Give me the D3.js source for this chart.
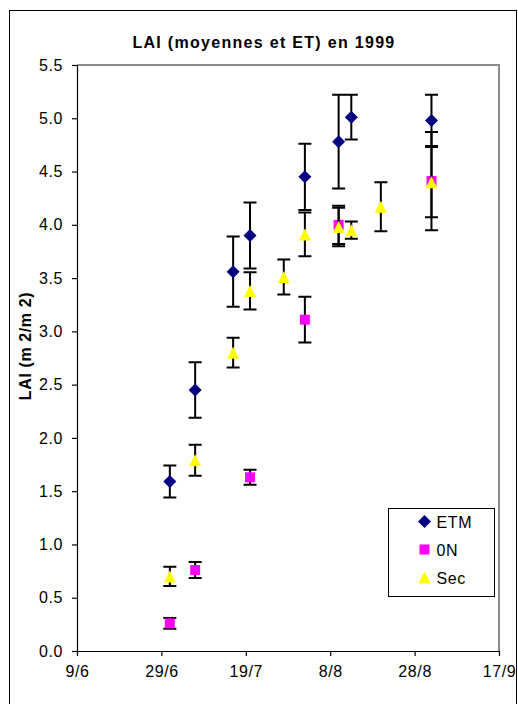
<!DOCTYPE html>
<html>
<head>
<meta charset="utf-8">
<script src="https://cdn.jsdelivr.net/npm/d3@7/dist/d3.min.js"></script>
<style>
  body { margin: 0; background: #fff; }
  svg { display: block; font-family: "Liberation Sans", Arial, sans-serif; }
  .axis text { font-size: 16px; letter-spacing: 0.6px; fill: #000; }
  .axis path, .axis line { stroke: #000; stroke-width: 1.2; }
</style>
</head>
<body>
<div id="chart"></div>
<script>
// LAI means and standard deviations (ET), 1999
const etmDates = ["1999-07-01", "1999-07-07", "1999-07-16", "1999-07-20", "1999-08-02", "1999-08-10", "1999-08-13", "1999-09-01"];
const etmMean = [1.59, 2.45, 3.56, 3.90, 4.45, 4.78, 5.01, 4.98];
const etmSd = [0.15, 0.26, 0.33, 0.31, 0.31, 0.44, 0.21, 0.24];

const onDates = ["1999-07-01", "1999-07-07", "1999-07-20", "1999-08-02", "1999-08-10", "1999-09-01"];
const onMean = [0.26, 0.76, 1.63, 3.11, 4.00, 4.41];
const onSd = [0.05, 0.075, 0.07, 0.215, 0.18, 0.46];

const secDates = ["1999-07-01", "1999-07-07", "1999-07-16", "1999-07-20", "1999-07-28", "1999-08-02", "1999-08-10", "1999-08-13", "1999-08-20", "1999-09-01"];
const secMean = [0.70, 1.79, 2.80, 3.38, 3.51, 3.91, 3.98, 3.95, 4.17, 4.40];
const secSd = [0.09, 0.145, 0.14, 0.175, 0.165, 0.205, 0.18, 0.08, 0.23, 0.33];

const xTicks = ["1999-06-09", "1999-06-29", "1999-07-19", "1999-08-08", "1999-08-28", "1999-09-17"];
const yTicks = [0, 0.5, 1, 1.5, 2, 2.5, 3, 3.5, 4, 4.5, 5, 5.5];

const parse = d3.timeParse("%Y-%m-%d");

const series = [
  { name: "ETM", color: "#000080", shape: "diamond", dates: etmDates, mean: etmMean, sd: etmSd },
  { name: "0N", color: "#ff00ff", shape: "square", dates: onDates, mean: onMean, sd: onSd },
  { name: "Sec", color: "#ffff00", shape: "triangle", dates: secDates, mean: secMean, sd: secSd }
];

const W = 518, H = 704;
const plot = { left: 77, right: 499, top: 65, bottom: 651 };

const x = d3.scaleTime()
  .domain([parse(xTicks[0]), parse(xTicks[xTicks.length - 1])])
  .range([plot.left, plot.right]);
const y = d3.scaleLinear().domain([0, 5.5]).range([plot.bottom, plot.top]);

const svg = d3.select("#chart").append("svg").attr("width", W).attr("height", H);

// chart frame
svg.append("rect")
  .attr("x", 9.5).attr("y", 10.5).attr("width", 507).attr("height", 700)
  .attr("fill", "#fff").attr("stroke", "#000").attr("stroke-width", 1);

// plot area border (grey top/right)
svg.append("path")
  .attr("d", `M${plot.left},${plot.top}H${plot.right}V${plot.bottom}`)
  .attr("fill", "none").attr("stroke", "#8c8c8c").attr("stroke-width", 2);

svg.append("text")
  .attr("x", 264).attr("y", 48)
  .attr("text-anchor", "middle")
  .attr("font-size", 16).attr("font-weight", "bold")
  .style("letter-spacing", "1.3px")
  .text("LAI (moyennes et ET) en 1999");

svg.append("text")
  .attr("transform", "translate(31,346) rotate(-90)")
  .attr("text-anchor", "middle")
  .attr("font-size", 16).attr("font-weight", "bold")
  .style("letter-spacing", "0.6px")
  .text("LAI (m 2/m 2)");

svg.append("g").attr("class", "axis")
  .attr("transform", `translate(${plot.left},0)`)
  .call(d3.axisLeft(y).tickValues(yTicks).tickFormat(d3.format(".1f")).tickSize(5).tickSizeOuter(0).tickPadding(9));

svg.append("g").attr("class", "axis")
  .attr("transform", `translate(0,${plot.bottom})`)
  .call(d3.axisBottom(x).tickValues(xTicks.map(parse)).tickFormat(d3.timeFormat("%-d/%-m")).tickSize(5).tickSizeOuter(0).tickPadding(10));

function markerPath(shape) {
  if (shape === "diamond") return "M0,-6.5L6.5,0L0,6.5L-6.5,0Z";
  if (shape === "square") return "M-5,-5H5V5H-5Z";
  return "M0,-6L6,6H-6Z";
}

const cap = 6.5;
series.forEach(s => {
  const pts = s.dates.map((d, i) => ({ date: parse(d), mean: s.mean[i], sd: s.sd[i] }));
  const g = svg.append("g");

  const eb = g.append("g").attr("stroke", "#000").attr("stroke-width", 2).attr("fill", "none")
    .selectAll("path").data(pts).join("path")
    .attr("d", d => {
      const cx = x(d.date), hi = y(d.mean + d.sd), lo = y(d.mean - d.sd);
      return `M${cx},${hi}V${lo}M${cx - cap},${hi}H${cx + cap}M${cx - cap},${lo}H${cx + cap}`;
    });

  g.append("g").selectAll("path").data(pts).join("path")
    .attr("transform", d => `translate(${x(d.date)},${y(d.mean)})`)
    .attr("d", markerPath(s.shape))
    .attr("fill", s.color);
});

// legend
const lg = svg.append("g").attr("transform", "translate(388.5,508.5)");
lg.append("rect").attr("width", 106).attr("height", 88)
  .attr("fill", "#fff").attr("stroke", "#000").attr("stroke-width", 1);
series.forEach((s, i) => {
  const row = lg.append("g").attr("transform", `translate(0,${13 + i * 28})`);
  row.append("path").attr("transform", "translate(36,0)").attr("d", markerPath(s.shape)).attr("fill", s.color);
  row.append("text").attr("x", 48).attr("y", 6)
    .attr("font-size", 16).style("letter-spacing", "0.6px").text(s.name);
});
</script>
</body>
</html>
